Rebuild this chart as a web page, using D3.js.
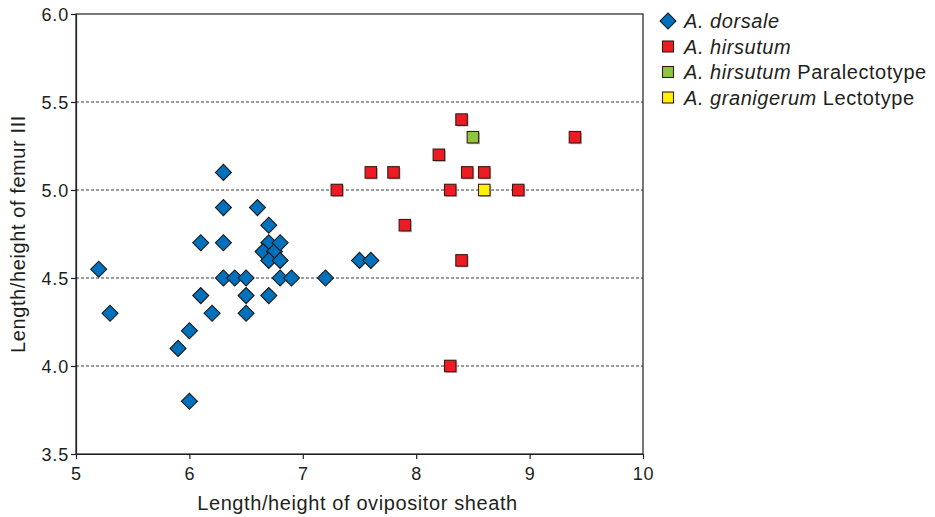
<!DOCTYPE html>
<html>
<head>
<meta charset="utf-8">
<script src="https://cdn.jsdelivr.net/npm/d3@7"></script>
<style>
  body { margin: 0; background: #fff; }
  text { font-family: "Liberation Sans", Arial, sans-serif; fill: #231f20; }
</style>
</head>
<body>
<svg id="chart" width="935" height="517"></svg>
<script>
// ---- data ----
const dorsaleX = [5.2, 5.3, 5.9, 6.0, 6.0, 6.1, 6.1, 6.2, 6.3, 6.3, 6.3, 6.3, 6.4, 6.5, 6.5, 6.5, 6.6, 6.7, 6.7, 6.65, 6.75, 6.8, 6.7, 6.8, 6.8, 6.9, 7.2, 6.7, 7.5, 7.6];
const dorsaleY = [4.55, 4.3, 4.1, 4.2, 3.8, 4.7, 4.4, 4.3, 5.1, 4.9, 4.7, 4.5, 4.5, 4.5, 4.4, 4.3, 4.9, 4.8, 4.7, 4.65, 4.65, 4.7, 4.6, 4.6, 4.5, 4.5, 4.5, 4.4, 4.6, 4.6];
const hirsutumX = [8.4, 9.4, 8.2, 7.6, 7.8, 8.45, 8.6, 7.3, 8.3, 8.9, 7.9, 8.4, 8.3];
const hirsutumY = [5.4, 5.3, 5.2, 5.1, 5.1, 5.1, 5.1, 5.0, 5.0, 5.0, 4.8, 4.6, 4.0];
const paralectotypeX = [8.5];
const paralectotypeY = [5.3];
const lectotypeX = [8.6];
const lectotypeY = [5.0];
const xTicks = [5, 6, 7, 8, 9, 10];
const yTicks = [3.5, 4.0, 4.5, 5.0, 5.5, 6.0];
const gridValues = [4.0, 4.5, 5.0, 5.5];
const legendItems = [
  { italic: "A. dorsale", plain: "", shape: "diamond", color: "#0071bc" },
  { italic: "A. hirsutum", plain: "", shape: "square", color: "#ed1c24" },
  { italic: "A. hirsutum", plain: " Paralectotype", shape: "square", color: "#8dc63f" },
  { italic: "A. granigerum", plain: " Lectotype", shape: "square", color: "#fff200" }
];
const xTitle = "Length/height of ovipositor sheath";
const yTitle = "Length/height of femur III";

// ---- layout ----
const svg = d3.select("#chart");
const mLeft = 76, mRight = 643, mTop = 14, mBottom = 454;
const x = d3.scaleLinear().domain([5, 10]).range([mLeft, mRight]);
const y = d3.scaleLinear().domain([3.5, 6.0]).range([mBottom, mTop]);
const axisColor = "#231f20";

// gridlines
svg.append("g").selectAll("line").data(gridValues).join("line")
  .attr("x1", mLeft).attr("x2", mRight)
  .attr("y1", d => y(d)).attr("y2", d => y(d))
  .attr("stroke", "#3a3a3a").attr("stroke-width", 1)
  .attr("stroke-dasharray", "3,2");

// frame
svg.append("rect").attr("x", mLeft).attr("y", mTop)
  .attr("width", mRight - mLeft).attr("height", mBottom - mTop)
  .attr("fill", "none").attr("stroke", axisColor).attr("stroke-width", 1.2);

// axes
const xAxis = svg.append("g").attr("transform", `translate(0,${mBottom})`)
  .call(d3.axisBottom(x).tickValues(xTicks).tickFormat(d3.format("d")).tickSize(5).tickSizeOuter(0));
const yAxis = svg.append("g").attr("transform", `translate(${mLeft},0)`)
  .call(d3.axisLeft(y).tickValues(yTicks).tickFormat(d3.format(".1f")).tickSize(5).tickSizeOuter(0));
[xAxis, yAxis].forEach(g => {
  g.select(".domain").attr("stroke", axisColor).attr("stroke-width", 1.2);
  g.selectAll(".tick line").attr("stroke", axisColor).attr("stroke-width", 1.2);
  g.selectAll(".tick text").attr("font-size", 18).attr("fill", axisColor)
    .attr("letter-spacing", 0.8)
    .attr("font-family", '"Liberation Sans", Arial, sans-serif');
});
xAxis.selectAll(".tick text").attr("y", 26).attr("dy", 0);
yAxis.selectAll(".tick text").attr("x", -7).attr("dy", "0.36em");

// axis titles
svg.append("text").attr("x", (mLeft + mRight) / 2 - 2).attr("y", 510)
  .attr("text-anchor", "middle").attr("font-size", 20).attr("letter-spacing", 0.6).text(xTitle);
svg.append("text").attr("transform", `translate(25,${(mTop + mBottom) / 2}) rotate(-90)`)
  .attr("text-anchor", "middle").attr("font-size", 20).attr("letter-spacing", 0.6).text(yTitle);

// marks
const diamondPath = d3.symbol(d3.symbolSquare, 128)();
const squareSize = 11.5;

function drawSquares(xs, ys, color) {
  const g = svg.append("g");
  const data = xs.map((v, i) => ({ x: v, y: ys[i] }));
  g.selectAll("rect.shadow").data(data).join("rect").attr("class", "shadow")
    .attr("x", d => x(d.x) - squareSize / 2 + 1.3).attr("y", d => y(d.y) - squareSize / 2 + 1.3)
    .attr("width", squareSize).attr("height", squareSize)
    .attr("fill", "#bdbdbd");
  g.selectAll("rect.mark").data(data).join("rect").attr("class", "mark")
    .attr("x", d => x(d.x) - squareSize / 2).attr("y", d => y(d.y) - squareSize / 2)
    .attr("width", squareSize).attr("height", squareSize)
    .attr("fill", color).attr("stroke", "#3b1a14").attr("stroke-width", 1.1);
}

const dData = dorsaleX.map((v, i) => ({ x: v, y: dorsaleY[i] }));
svg.append("g").selectAll("path").data(dData).join("path")
  .attr("d", diamondPath)
  .attr("transform", d => `translate(${x(d.x)},${y(d.y)}) rotate(45)`)
  .attr("fill", "#0071bc").attr("stroke", "#1a1a1a").attr("stroke-width", 1.1);

drawSquares(hirsutumX, hirsutumY, "#ed1c24");
drawSquares(paralectotypeX, paralectotypeY, "#8dc63f");
drawSquares(lectotypeX, lectotypeY, "#fff200");

// legend
const lg = svg.append("g");
legendItems.forEach((it, i) => {
  const cy = 21 + i * 25.5, cx = 668;
  if (it.shape === "diamond") {
    lg.append("path").attr("d", diamondPath)
      .attr("transform", `translate(${cx},${cy}) rotate(45)`)
      .attr("fill", it.color).attr("stroke", "#1a1a1a").attr("stroke-width", 1.1);
  } else {
    lg.append("rect").attr("x", cx - 5.5).attr("y", cy - 5.5).attr("width", 11).attr("height", 11)
      .attr("fill", it.color).attr("stroke", "#3b1a14").attr("stroke-width", 1.1);
  }
  const t = lg.append("text").attr("x", 684).attr("y", cy).attr("dy", "0.36em")
    .attr("font-size", 20).attr("letter-spacing", 0.55);
  t.append("tspan").attr("font-style", "italic").text(it.italic);
  if (it.plain) t.append("tspan").text(it.plain);
});
</script>
</body>
</html>
